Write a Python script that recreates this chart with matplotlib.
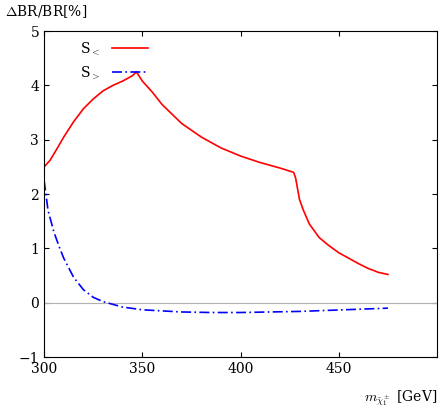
import matplotlib
matplotlib.use('Agg')
import matplotlib.pyplot as plt

# S_< curve
x_lt = [300, 303, 306, 310, 315, 320, 325, 330, 335, 340, 345, 347, 350, 355, 360, 370, 380, 390,
        400, 410, 420, 427, 428, 430, 432, 435, 440, 445, 450, 455, 460, 465, 468, 470, 475]
y_lt = [2.5, 2.62, 2.8, 3.05, 3.33, 3.57, 3.75, 3.9, 4.0, 4.08, 4.18, 4.25, 4.08, 3.88, 3.65, 3.3, 3.05, 2.85,
        2.7, 2.58, 2.48, 2.4, 2.3, 1.9, 1.7, 1.45, 1.2, 1.05, 0.92, 0.82, 0.72, 0.63, 0.59, 0.56, 0.52]

# S_> curve
x_gt = [300, 302, 305, 308, 310, 315, 320, 325, 330, 340, 350, 360, 370, 385, 400, 415, 430, 445, 460, 475]
y_gt = [2.25, 1.7, 1.3, 1.0, 0.82, 0.47, 0.24, 0.1, 0.02, -0.08, -0.13, -0.15, -0.17, -0.18, -0.18, -0.17, -0.16, -0.14, -0.12, -0.1]

plt.rcParams['mathtext.fontset'] = 'cm'
plt.rcParams['font.family'] = 'serif'
plt.rcParams['font.serif'] = ['DejaVu Serif']

fig, ax = plt.subplots(figsize=(4.41, 4.09), dpi=100)
fig.subplots_adjust(left=0.1, right=0.991, top=0.924, bottom=0.127)

ax.axhline(0, color='#b0b0b0', lw=0.8)
ax.plot(x_lt, y_lt, color='red', lw=1.2, label=r'S$_<$')
ax.plot(x_gt, y_gt, color='blue', lw=1.2, ls=(0, (6, 2, 1, 2)), label=r'S$_>$')

ax.set_xlim(300, 500)
ax.set_ylim(-1, 5)
ax.set_xticks([300, 350, 400, 450])
ax.set_yticks(range(-1, 6))
ax.tick_params(direction='in', top=True, right=True, labelsize=10)

ax.text(-0.1, 1.035, r'$\Delta$BR/BR[%]', transform=ax.transAxes, fontsize=10, va='bottom')
ax.text(1.0, -0.095, r'$m_{\tilde\chi_1^\pm}$ [GeV]', transform=ax.transAxes, fontsize=10, ha='right', va='top')

ax.legend(loc='upper left', bbox_to_anchor=(0.06, 1.01), frameon=False, fontsize=10,
          markerfirst=False, handlelength=2.6)

fig.savefig('out.png')
